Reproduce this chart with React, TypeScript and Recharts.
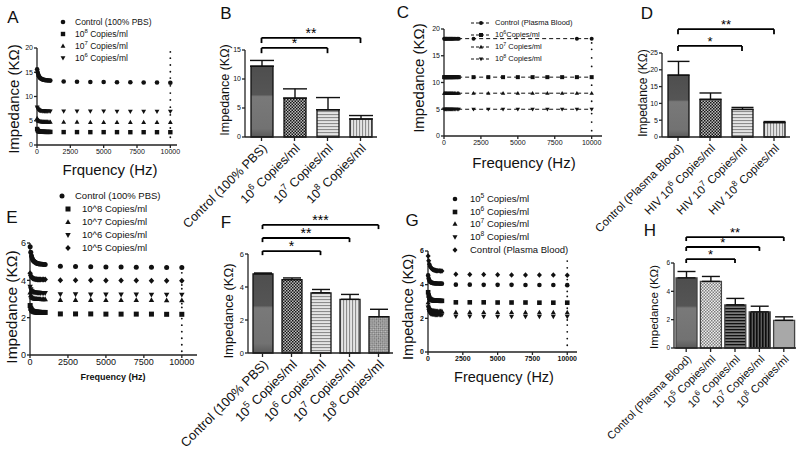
import React from "react";
import {
  Bar,
  BarChart,
  Cell,
  ErrorBar,
  ReferenceLine,
  Scatter,
  ScatterChart,
  XAxis,
  YAxis,
} from "recharts";

const FONT = '"Liberation Sans", Arial, Helvetica, sans-serif';
const INK = "#111";

// frequency grids shared by the impedance sweeps
const lowFreq = [10, 50, 100, 150, 200, 260, 320, 380, 440, 500, 560, 620, 700, 800, 900, 1000];
const highFreq = [2000, 3000, 4000, 5000, 6000, 7000, 8000, 9000, 10000];
const freqTicks = [0, 2500, 5000, 7500, 10000];

// A: PBS spiked samples
const aCtrlLow = [15.6, 15.0, 14.5, 14.15, 13.9, 13.75, 13.65, 13.57, 13.5, 13.45, 13.41, 13.38, 13.35, 13.32, 13.3, 13.28];
const aCtrlHigh = [13.1, 13.05, 13.0, 12.98, 12.95, 12.93, 12.9, 12.88, 12.85];
const a6Low = [7.8, 7.5, 7.3, 7.2, 7.13, 7.08, 7.05, 7.03, 7.01, 7.0, 6.99, 6.98, 6.98, 6.97, 6.97, 6.96];
const a6High = [6.95, 6.95, 6.94, 6.94, 6.93, 6.93, 6.92, 6.92, 6.92];
const a7Low = [5.5, 5.2, 5.02, 4.93, 4.88, 4.85, 4.83, 4.81, 4.8, 4.79, 4.79, 4.78, 4.78, 4.77, 4.77, 4.76];
const a7High = [4.72, 4.72, 4.71, 4.71, 4.7, 4.7, 4.7, 4.69, 4.69];
const a8Low = [3.3, 3.02, 2.88, 2.81, 2.77, 2.75, 2.74, 2.73, 2.72, 2.72, 2.71, 2.71, 2.7, 2.7, 2.7, 2.7];
const a8High = [2.66, 2.66, 2.65, 2.65, 2.65, 2.64, 2.64, 2.64, 2.64];
const aEdge = [19.2, 17.9, 16.5, 15.1, 13.8, 12.2, 10.7, 9.3, 7.8, 6.2, 4.7, 3.5, 1.6];

// C: plasma blood samples (flat)
const cCtrlHighFreq = [2000, 9000, 10000];
const cCtrlLow = [18.2, 18.2, 18.2, 18.2, 18.2, 18.2, 18.2, 18.2, 18.2, 18.2, 18.2, 18.2, 18.2, 18.2, 18.2, 18.2];
const cCtrlHigh = [18.2, 18.2, 18.2];
const c6Low = [11.0, 11.0, 11.0, 11.0, 11.0, 11.0, 11.0, 11.0, 11.0, 11.0, 11.0, 11.0, 11.0, 11.0, 11.0, 11.0];
const c6High = [11.0, 11.0, 11.0, 11.0, 11.0, 11.0, 11.0, 11.0, 11.0];
const c7Low = [8.0, 8.0, 8.0, 8.0, 8.0, 8.0, 8.0, 8.0, 8.0, 8.0, 8.0, 8.0, 8.0, 8.0, 8.0, 8.0];
const c7High = [8.0, 8.0, 8.0, 8.0, 8.0, 8.0, 8.0, 8.0, 8.0];
const c8Low = [5.0, 5.0, 5.0, 5.0, 5.0, 5.0, 5.0, 5.0, 5.0, 5.0, 5.0, 5.0, 5.0, 5.0, 5.0, 5.0];
const c8High = [5.0, 5.0, 5.0, 5.0, 5.0, 5.0, 5.0, 5.0, 5.0];
const cEdge = [1.0, 2.6, 4.2, 6.5, 9.5, 13.0, 14.6, 16.2, 17.4];

// E: PBS, lower range
const eCtrlLow = [5.8, 5.5, 5.3, 5.17, 5.08, 5.02, 4.98, 4.95, 4.92, 4.9, 4.89, 4.88, 4.87, 4.86, 4.85, 4.85];
const eCtrlHigh = [4.76, 4.74, 4.73, 4.72, 4.71, 4.7, 4.7, 4.69, 4.69];
const e5Low = [4.38, 4.26, 4.18, 4.13, 4.1, 4.08, 4.07, 4.06, 4.06, 4.05, 4.05, 4.05, 4.04, 4.04, 4.04, 4.04];
const e5High = [4.0, 4.0, 4.0, 3.99, 3.99, 3.99, 3.98, 3.98, 3.98];
const e6Low = [3.65, 3.52, 3.44, 3.4, 3.37, 3.36, 3.35, 3.34, 3.34, 3.33, 3.33, 3.33, 3.32, 3.32, 3.32, 3.32];
const e6High = [3.25, 3.25, 3.24, 3.24, 3.24, 3.24, 3.23, 3.23, 3.23];
const e7Low = [3.35, 3.2, 3.12, 3.07, 3.05, 3.03, 3.02, 3.01, 3.01, 3.0, 3.0, 3.0, 3.0, 2.99, 2.99, 2.99];
const e7High = [2.95, 2.95, 2.95, 2.94, 2.94, 2.94, 2.94, 2.93, 2.93];
const e8Low = [2.65, 2.5, 2.42, 2.37, 2.34, 2.32, 2.31, 2.3, 2.3, 2.29, 2.29, 2.29, 2.28, 2.28, 2.28, 2.28];
const e8High = [2.2, 2.2, 2.2, 2.19, 2.19, 2.19, 2.19, 2.18, 2.18];
const eEdge = [0.2, 0.55, 0.9, 1.25, 1.6, 1.95, 2.55, 2.75, 3.55, 3.75, 4.4];

// G: plasma blood, lower range
const gCtrlLow = [5.7, 5.42, 5.22, 5.1, 5.02, 4.96, 4.92, 4.89, 4.87, 4.85, 4.84, 4.83, 4.82, 4.82, 4.81, 4.81];
const gCtrlHigh = [4.62, 4.6, 4.6, 4.59, 4.58, 4.58, 4.57, 4.57, 4.56];
const g5Low = [4.55, 4.36, 4.25, 4.18, 4.14, 4.12, 4.1, 4.09, 4.08, 4.08, 4.07, 4.07, 4.07, 4.06, 4.06, 4.06];
const g5High = [4.0, 4.0, 3.99, 3.99, 3.99, 3.98, 3.98, 3.98, 3.97];
const g6Low = [3.55, 3.35, 3.22, 3.15, 3.11, 3.09, 3.08, 3.07, 3.06, 3.06, 3.05, 3.05, 3.05, 3.05, 3.04, 3.04];
const g6High = [2.95, 2.95, 2.95, 2.94, 2.94, 2.94, 2.93, 2.93, 2.93];
const g7Low = [2.95, 2.75, 2.62, 2.55, 2.51, 2.48, 2.46, 2.45, 2.44, 2.44, 2.43, 2.43, 2.43, 2.42, 2.42, 2.42];
const g7High = [2.37, 2.37, 2.36, 2.36, 2.36, 2.35, 2.35, 2.35, 2.35];
const g8Low = [2.65, 2.46, 2.36, 2.3, 2.27, 2.25, 2.24, 2.23, 2.22, 2.22, 2.21, 2.21, 2.21, 2.2, 2.2, 2.2];
const g8High = [2.12, 2.12, 2.11, 2.11, 2.11, 2.1, 2.1, 2.1, 2.1];
const gEdge = [0.4, 0.8, 1.2, 1.6, 1.9, 2.6, 3.3, 3.6, 4.3, 5.0, 5.4];

// bar panels
const bCats = ["Control (100% PBS)", "10^6 Copies/ml", "10^7 Copies/ml", "10^8 Copies/ml"];
const bVals = [12.2, 6.7, 4.7, 3.1];
const bErr = [1.0, 1.6, 2.1, 0.6];

const dCats = ["Control (Plasma Blood)", "HIV 10^6 Copies/ml", "HIV 10^7 Copies/ml", "HIV 10^8 Copies/ml"];
const dVals = [18.4, 11.2, 8.2, 4.3];
const dErr = [4.1, 1.9, 0.6, 0.3];

const fCats = ["Control (100% PBS)", "10^5 Copies/ml", "10^6 Copies/ml", "10^7 Copies/ml", "10^8 Copies/ml"];
const fVals = [4.8, 4.45, 3.65, 3.25, 2.2];
const fErr = [0.05, 0.1, 0.2, 0.3, 0.45];

const hCats = ["Control (Plasma Blood)", "10^5 Copies/ml", "10^6 Copies/ml", "10^7 Copies/ml", "10^8 Copies/ml"];
const hVals = [4.95, 4.7, 3.05, 2.55, 1.95];
const hErr = [0.45, 0.35, 0.45, 0.4, 0.25];

// significance brackets: [from, to, height, stars]
const bSig: [number, number, number, string][] = [[0, 3, 17.1, "**"], [0, 2, 15.35, "*"]];
const dSig: [number, number, number, string][] = [[0, 3, 32.1, "**"], [0, 2, 27.1, "*"]];
const fSig: [number, number, number, string][] = [[0, 4, 7.76, "***"], [0, 3, 6.97, "**"], [0, 2, 6.18, "*"]];
const hSig: [number, number, number, string][] = [[0, 4, 7.83, "**"], [0, 3, 7.13, "*"], [0, 2, 6.28, "*"]];

type Pt = { x: number; y: number };
const pts = (xs: number[], ys: number[]): Pt[] => xs.map((x, i) => ({ x, y: ys[i] }));
const edge = (ys: number[]): Pt[] => ys.map((y) => ({ x: 10000, y }));

function glyph(kind: string, cx: number, cy: number, s: number) {
  const h = s / 2;
  if (kind === "square") return <rect x={cx - h} y={cy - h} width={s} height={s} fill={INK} />;
  if (kind === "up")
    return <path d={`M${cx},${cy - h * 1.15}L${cx + h * 1.1},${cy + h * 0.8}L${cx - h * 1.1},${cy + h * 0.8}Z`} fill={INK} />;
  if (kind === "down")
    return <path d={`M${cx},${cy + h * 1.15}L${cx + h * 1.1},${cy - h * 0.8}L${cx - h * 1.1},${cy - h * 0.8}Z`} fill={INK} />;
  if (kind === "diamond")
    return <path d={`M${cx},${cy - h * 1.2}L${cx + h * 1.1},${cy}L${cx},${cy + h * 1.2}L${cx - h * 1.1},${cy}Z`} fill={INK} />;
  return <circle cx={cx} cy={cy} r={h} fill={INK} />;
}

const marker = (kind: string, s: number) => (p: any) => {
  if (p.cx == null || p.cy == null) return <g />;
  return glyph(kind, p.cx, p.cy, s);
};

function ScatterPanel({ box, margin, xMax, yMax, yTicks, tickFs, tickWeight, series }: any) {
  const tick = { fontSize: tickFs, fill: INK, fontWeight: tickWeight, fontFamily: FONT };
  return (
    <div style={{ position: "absolute", left: box[0], top: box[1] }}>
      <ScatterChart width={box[2]} height={box[3]} margin={margin}>
        <XAxis
          type="number"
          dataKey="x"
          domain={[0, xMax]}
          ticks={freqTicks}
          interval={0}
          tick={tick}
          tickSize={3}
          tickMargin={1}
          height={16}
          stroke="#222"
          strokeWidth={1.3}
        />
        <YAxis
          type="number"
          dataKey="y"
          domain={[0, yMax]}
          ticks={yTicks}
          interval={0}
          tick={tick}
          tickSize={3}
          tickMargin={1}
          width={20}
          stroke="#222"
          strokeWidth={1.3}
        />
        {series.map((s: any, i: number) => (
          <Scatter
            key={i}
            data={s.data}
            shape={marker(s.kind, s.size)}
            line={s.line}
            isAnimationActive={false}
          />
        ))}
      </ScatterChart>
    </div>
  );
}

function splitSup(label: string) {
  const parts = label.split(/\^(\d)/);
  return parts.length === 1 ? [label, "", ""] : [parts[0], parts[1], parts[2]];
}

function CatTick({ x, y, payload, fs }: any) {
  const [pre, sup, post] = splitSup(String(payload.value));
  return (
    <g transform={`translate(${x + 3},${y + 3})`}>
      <text transform="rotate(-45)" textAnchor="end" dy={fs * 0.35} fontSize={fs} fontFamily={FONT} fill={INK}>
        <tspan>{pre}</tspan>
        {sup && (
          <>
            <tspan dy={-fs * 0.42} fontSize={fs * 0.72}>{sup}</tspan>
            <tspan dy={fs * 0.42}>{post}</tspan>
          </>
        )}
      </text>
    </g>
  );
}

function Patterns({ id }: { id: string }) {
  return (
    <defs>
      <linearGradient id={`${id}-solid`} x1="0" y1="0" x2="0" y2="1">
        <stop offset="0" stopColor="#4e4e4e" />
        <stop offset="0.4" stopColor="#555" />
        <stop offset="0.43" stopColor="#797979" />
        <stop offset="0.88" stopColor="#727272" />
        <stop offset="1" stopColor="#5a5a5a" />
      </linearGradient>
      <pattern id={`${id}-check`} width="3" height="3" patternUnits="userSpaceOnUse">
        <rect width="3" height="3" fill="#bdbdbd" />
        <rect width="1.5" height="1.5" fill="#151515" />
        <rect x="1.5" y="1.5" width="1.5" height="1.5" fill="#151515" />
      </pattern>
      <pattern id={`${id}-checkLight`} width="3" height="3" patternUnits="userSpaceOnUse">
        <rect width="3" height="3" fill="#eee" />
        <rect width="1.5" height="1.5" fill="#7d7d7d" />
        <rect x="1.5" y="1.5" width="1.5" height="1.5" fill="#7d7d7d" />
      </pattern>
      <pattern id={`${id}-hl`} width="4" height="3" patternUnits="userSpaceOnUse">
        <rect width="4" height="3" fill="#e4e4e4" />
        <rect width="4" height="1.1" fill="#8c8c8c" />
      </pattern>
      <pattern id={`${id}-vl`} width="3" height="4" patternUnits="userSpaceOnUse">
        <rect width="3" height="4" fill="#e4e4e4" />
        <rect width="1.1" height="4" fill="#8c8c8c" />
      </pattern>
      <pattern id={`${id}-diag`} width="3" height="3" patternUnits="userSpaceOnUse" patternTransform="rotate(45)">
        <rect width="3" height="3" fill="#c4c4c4" />
        <rect width="1.5" height="1.5" fill="#6e6e6e" />
        <rect x="1.5" y="1.5" width="1.5" height="1.5" fill="#6e6e6e" />
      </pattern>
      <pattern id={`${id}-hdark`} width="4" height="3" patternUnits="userSpaceOnUse">
        <rect width="4" height="3" fill="#7a7a7a" />
        <rect width="4" height="1.3" fill="#111" />
      </pattern>
      <pattern id={`${id}-vdark`} width="3" height="4" patternUnits="userSpaceOnUse">
        <rect width="3" height="4" fill="#5c5c5c" />
        <rect width="1.6" height="4" fill="#0d0d0d" />
      </pattern>
      <pattern id={`${id}-light`} width="4" height="4" patternUnits="userSpaceOnUse">
        <rect width="4" height="4" fill="#a8a8a8" />
      </pattern>
    </defs>
  );
}

const starLabel = (s: string, fs: number) => (p: any) => {
  const vb = p.viewBox || {};
  const x = vb.x1 != null ? (vb.x1 + vb.x2) / 2 : vb.x + (vb.width || 0) / 2;
  const y = vb.y1 != null ? Math.min(vb.y1, vb.y2) : vb.y;
  return (
    <text x={x} y={y} textAnchor="middle" fontSize={fs} fontFamily={FONT} fill="#000">
      {s}
    </text>
  );
};

function BarPanel({ id, box, margin, cats, vals, errs, fills, yMax, yTicks, barSize, capW, sig, tipD, labelFs, tickFs, starFs, outline }: any) {
  const data = cats.map((name: string, i: number) => ({ name, value: vals[i], err: [0, errs[i]] }));
  const tick = { fontSize: tickFs, fill: INK, fontFamily: FONT };
  return (
    <div style={{ position: "absolute", left: box[0], top: box[1] }}>
      <BarChart width={box[2]} height={box[3]} margin={margin} data={data} barCategoryGap={0}>
        <Patterns id={id} />
        <XAxis
          dataKey="name"
          type="category"
          interval={0}
          height={box[4]}
          tickSize={4}
          stroke="#222"
          strokeWidth={1.3}
          tick={(p: any) => <CatTick {...p} fs={labelFs} />}
        />
        <YAxis
          type="number"
          domain={[0, yMax]}
          ticks={yTicks}
          interval={0}
          width={20}
          tick={tick}
          tickSize={3}
          tickMargin={1}
          stroke="#222"
          strokeWidth={1.3}
        />
        <Bar dataKey="value" barSize={barSize} stroke={outline} strokeWidth={1.3} isAnimationActive={false}>
          {data.map((d: any, i: number) => (
            <Cell key={d.name} fill={`url(#${id}-${fills[i]})`} />
          ))}
          <ErrorBar dataKey="err" direction="y" width={capW} stroke={INK} strokeWidth={1.4} isAnimationActive={false} />
        </Bar>
        {sig.map(([a, b, h, s]: any, i: number) => (
          <ReferenceLine
            key={`h${i}`}
            segment={[{ x: cats[a], y: h }, { x: cats[b], y: h }]}
            stroke="#000"
            strokeWidth={1.8}
            ifOverflow="visible"
            label={starLabel(s, starFs)}
          />
        ))}
        {sig.map(([a, , h]: any, i: number) => (
          <ReferenceLine
            key={`l${i}`}
            segment={[{ x: cats[a], y: h }, { x: cats[a], y: h - tipD }]}
            stroke="#000"
            strokeWidth={1.8}
            ifOverflow="visible"
          />
        ))}
        {sig.map(([, b, h]: any, i: number) => (
          <ReferenceLine
            key={`r${i}`}
            segment={[{ x: cats[b], y: h }, { x: cats[b], y: h - tipD }]}
            stroke="#000"
            strokeWidth={1.8}
            ifOverflow="visible"
          />
        ))}
      </BarChart>
    </div>
  );
}

function Txt({ x, y, fs, rot, bold, children }: any) {
  return (
    <div
      style={{
        position: "absolute",
        left: x,
        top: y,
        transform: `translate(-50%,-50%)${rot ? " rotate(-90deg)" : ""}`,
        fontSize: fs,
        fontWeight: bold ? 700 : 400,
        fontFamily: FONT,
        whiteSpace: "nowrap",
        lineHeight: 1,
        color: INK,
      }}
    >
      {children}
    </div>
  );
}

function SupText({ text, raw }: { text: string; raw?: boolean }) {
  if (raw) return <>{text}</>;
  const [pre, sup, post] = splitSup(text);
  return (
    <>
      {pre}
      {sup && <sup style={{ fontSize: "0.7em", lineHeight: 0 }}>{sup}</sup>}
      {post}
    </>
  );
}

function LegendRow({ mx, tx, y, kind, s, fs, text, raw, dashed }: any) {
  return (
    <>
      <svg width={24} height={12} style={{ position: "absolute", left: mx - 12, top: y - 6, overflow: "visible" }}>
        {dashed && <line x1={2} y1={6} x2={22} y2={6} stroke={INK} strokeWidth={1} strokeDasharray="3 2" />}
        {glyph(kind, 12, 6, s)}
      </svg>
      <div
        style={{
          position: "absolute",
          left: tx,
          top: y,
          transform: "translateY(-50%)",
          fontSize: fs,
          fontFamily: FONT,
          whiteSpace: "nowrap",
          lineHeight: 1,
          color: INK,
        }}
      >
        <SupText text={text} raw={raw} />
      </div>
    </>
  );
}

const dashLine = { stroke: INK, strokeWidth: 1, strokeDasharray: "4 3" };

export default function App() {
  const aSeries = [
    { data: [...pts(lowFreq, aCtrlLow), ...pts(highFreq, aCtrlHigh)], kind: "circle", size: 4.6 },
    { data: [...pts(lowFreq, a8Low), ...pts(highFreq, a8High)], kind: "square", size: 4.4 },
    { data: [...pts(lowFreq, a7Low), ...pts(highFreq, a7High)], kind: "up", size: 4.4 },
    { data: [...pts(lowFreq, a6Low), ...pts(highFreq, a6High)], kind: "down", size: 4.4 },
    { data: edge(aEdge), kind: "circle", size: 1.8 },
  ];
  const cSeries = [
    { data: [...pts(lowFreq, cCtrlLow), ...pts(cCtrlHighFreq, cCtrlHigh)], kind: "circle", size: 4, line: dashLine },
    { data: [...pts(lowFreq, c6Low), ...pts(highFreq, c6High)], kind: "square", size: 4, line: dashLine },
    { data: [...pts(lowFreq, c7Low), ...pts(highFreq, c7High)], kind: "up", size: 4, line: dashLine },
    { data: [...pts(lowFreq, c8Low), ...pts(highFreq, c8High)], kind: "down", size: 4, line: dashLine },
    { data: edge(cEdge), kind: "circle", size: 1.8 },
  ];
  const eSeries = [
    { data: [...pts(lowFreq, eCtrlLow), ...pts(highFreq, eCtrlHigh)], kind: "circle", size: 5 },
    { data: [...pts(lowFreq, e8Low), ...pts(highFreq, e8High)], kind: "square", size: 5 },
    { data: [...pts(lowFreq, e7Low), ...pts(highFreq, e7High)], kind: "up", size: 5 },
    { data: [...pts(lowFreq, e6Low), ...pts(highFreq, e6High)], kind: "down", size: 5 },
    { data: [...pts(lowFreq, e5Low), ...pts(highFreq, e5High)], kind: "diamond", size: 5 },
    { data: edge(eEdge), kind: "circle", size: 1.9 },
  ];
  const gSeries = [
    { data: [...pts(lowFreq, g5Low), ...pts(highFreq, g5High)], kind: "circle", size: 4.6 },
    { data: [...pts(lowFreq, g6Low), ...pts(highFreq, g6High)], kind: "square", size: 4.6 },
    { data: [...pts(lowFreq, g7Low), ...pts(highFreq, g7High)], kind: "up", size: 4.6 },
    { data: [...pts(lowFreq, g8Low), ...pts(highFreq, g8High)], kind: "down", size: 4.6 },
    { data: [...pts(lowFreq, gCtrlLow), ...pts(highFreq, gCtrlHigh)], kind: "diamond", size: 4.6 },
    { data: edge(gEdge), kind: "circle", size: 1.8 },
  ];

  return (
    <div
      style={{
        position: "absolute",
        left: 0,
        top: 0,
        width: 800,
        height: 463,
        background: "#fff",
        overflow: "hidden",
        fontFamily: FONT,
      }}
    >
      <ScatterPanel box={[0, 0, 200, 185]} margin={{ top: 48, right: 23, bottom: 24, left: 17 }}
        xMax={10500} yMax={20} yTicks={[0, 5, 10, 15, 20]} tickFs={7} tickWeight={400} series={aSeries} />
      <ScatterPanel box={[395, 0, 215, 180]} margin={{ top: 29, right: 8, bottom: 28, left: 29 }}
        xMax={10700} yMax={20} yTicks={[0, 5, 10, 15, 20]} tickFs={7} tickWeight={400} series={cSeries} />
      <ScatterPanel box={[0, 185, 200, 200]} margin={{ top: 58, right: 3, bottom: 14, left: 10 }}
        xMax={11000} yMax={6} yTicks={[0, 2, 4, 6]} tickFs={9} tickWeight={400} series={eSeries} />
      <ScatterPanel box={[395, 185, 200, 200]} margin={{ top: 66, right: 18, bottom: 17, left: 13 }}
        xMax={10700} yMax={6} yTicks={[0, 2, 4, 6]} tickFs={7} tickWeight={700} series={gSeries} />

      <BarPanel id="pb" box={[170, 0, 225, 235, 90]} margin={{ top: 50, right: 18, bottom: 8, left: 55 }}
        cats={bCats} vals={bVals} errs={bErr} fills={["solid", "check", "hl", "vl"]}
        yMax={15} yTicks={[0, 5, 10, 15]} barSize={22} capW={12} sig={bSig} tipD={0.9}
        labelFs={12.5} tickFs={7} starFs={14} outline={INK} />
      <BarPanel id="pd" box={[560, 0, 240, 240, 90]} margin={{ top: 53, right: 10, bottom: 13, left: 82 }}
        cats={dCats} vals={dVals} errs={dErr} fills={["solid", "check", "hl", "vl"]}
        yMax={25} yTicks={[0, 5, 10, 15, 20, 25]} barSize={21} capW={11} sig={dSig} tipD={1.5}
        labelFs={11.5} tickFs={7} starFs={13} outline={INK} />
      <BarPanel id="pf" box={[160, 200, 240, 263, 100]} margin={{ top: 54, right: 7, bottom: 10, left: 68 }}
        cats={fCats} vals={fVals} errs={fErr} fills={["solid", "check", "hl", "vl", "diag"]}
        yMax={6} yTicks={[0, 2, 4, 6]} barSize={20} capW={9} sig={fSig} tipD={0.25}
        labelFs={13} tickFs={7.5} starFs={14} outline={INK} />
      <BarPanel id="ph" box={[570, 215, 230, 248, 100]} margin={{ top: 48, right: 4, bottom: 15, left: 84 }}
        cats={hCats} vals={hVals} errs={hErr} fills={["solid", "checkLight", "hdark", "vdark", "light"]}
        yMax={6} yTicks={[0, 2, 4, 6]} barSize={21} capW={9} sig={hSig} tipD={0.28}
        labelFs={11} tickFs={6.5} starFs={13} outline="#444" />

      {/* panel letters */}
      <Txt x={13} y={17} fs={17}>A</Txt>
      <Txt x={226} y={13} fs={17}>B</Txt>
      <Txt x={403} y={12} fs={17}>C</Txt>
      <Txt x={647} y={13} fs={17}>D</Txt>
      <Txt x={12} y={217} fs={17}>E</Txt>
      <Txt x={226} y={222} fs={17}>F</Txt>
      <Txt x={412} y={220} fs={17}>G</Txt>
      <Txt x={650} y={230} fs={17}>H</Txt>

      {/* axis titles */}
      <Txt x={13} y={99} fs={15} rot>Impedance (KΩ)</Txt>
      <Txt x={110} y={169} fs={15}>Frquency (Hz)</Txt>
      <Txt x={225} y={90} fs={12.5} rot>Impedance (KΩ)</Txt>
      <Txt x={418} y={78} fs={15} rot>Impedance (KΩ)</Txt>
      <Txt x={524} y={162} fs={15}>Frequency (Hz)</Txt>
      <Txt x={643} y={93} fs={12} rot>Impedance (KΩ)</Txt>
      <Txt x={12} y={307} fs={15.5} rot>Impedance (KΩ)</Txt>
      <Txt x={113} y={377} fs={9} bold>Frequency (Hz)</Txt>
      <Txt x={228} y={311} fs={13} rot>Impedance (KΩ)</Txt>
      <Txt x={408} y={307} fs={14.5} rot>Impedance (KΩ)</Txt>
      <Txt x={504} y={377} fs={14.5}>Frequency (Hz)</Txt>
      <Txt x={655} y={307} fs={11.5} rot>Impedance (KΩ)</Txt>

      {/* legends */}
      <LegendRow mx={63} tx={75} y={22} kind="circle" s={4.6} fs={8.5} text="Control (100% PBS)" />
      <LegendRow mx={63} tx={75} y={34} kind="square" s={4.4} fs={8.5} text="10^8 Copies/ml" />
      <LegendRow mx={63} tx={75} y={46} kind="up" s={4.4} fs={8.5} text="10^7 Copies/ml" />
      <LegendRow mx={63} tx={75} y={58} kind="down" s={4.4} fs={8.5} text="10^6 Copies/ml" />

      <LegendRow mx={481} tx={495} y={23} kind="circle" s={4} fs={7.5} text="Control (Plasma Blood)" dashed />
      <LegendRow mx={481} tx={495} y={35} kind="square" s={4} fs={7.5} text="10^6Copies/ml" dashed />
      <LegendRow mx={481} tx={495} y={47} kind="up" s={4} fs={7.5} text="10^7 Copies/ml" dashed />
      <LegendRow mx={481} tx={495} y={59} kind="down" s={4} fs={7.5} text="10^8 Copies/ml" dashed />

      <LegendRow mx={62} tx={75} y={196} kind="circle" s={5} fs={9.5} text="Control (100% PBS)" />
      <LegendRow mx={68} tx={82} y={209} kind="square" s={5} fs={9.5} text="10^8 Copies/ml" raw />
      <LegendRow mx={68} tx={82} y={222} kind="up" s={5} fs={9.5} text="10^7 Copies/ml" raw />
      <LegendRow mx={68} tx={82} y={235} kind="down" s={5} fs={9.5} text="10^6 Copies/ml" raw />
      <LegendRow mx={68} tx={82} y={248} kind="diamond" s={5} fs={9.5} text="10^5 Copies/ml" raw />

      <LegendRow mx={455} tx={470} y={199} kind="circle" s={4.6} fs={9.5} text="10^5 Copies/ml" />
      <LegendRow mx={455} tx={470} y={212} kind="square" s={4.6} fs={9.5} text="10^6 Copies/ml" />
      <LegendRow mx={455} tx={470} y={224} kind="up" s={4.6} fs={9.5} text="10^7 Copies/ml" />
      <LegendRow mx={455} tx={470} y={237} kind="down" s={4.6} fs={9.5} text="10^8 Copies/ml" />
      <LegendRow mx={455} tx={470} y={250} kind="diamond" s={4.6} fs={9.5} text="Control (Plasma Blood)" />
    </div>
  );
}
